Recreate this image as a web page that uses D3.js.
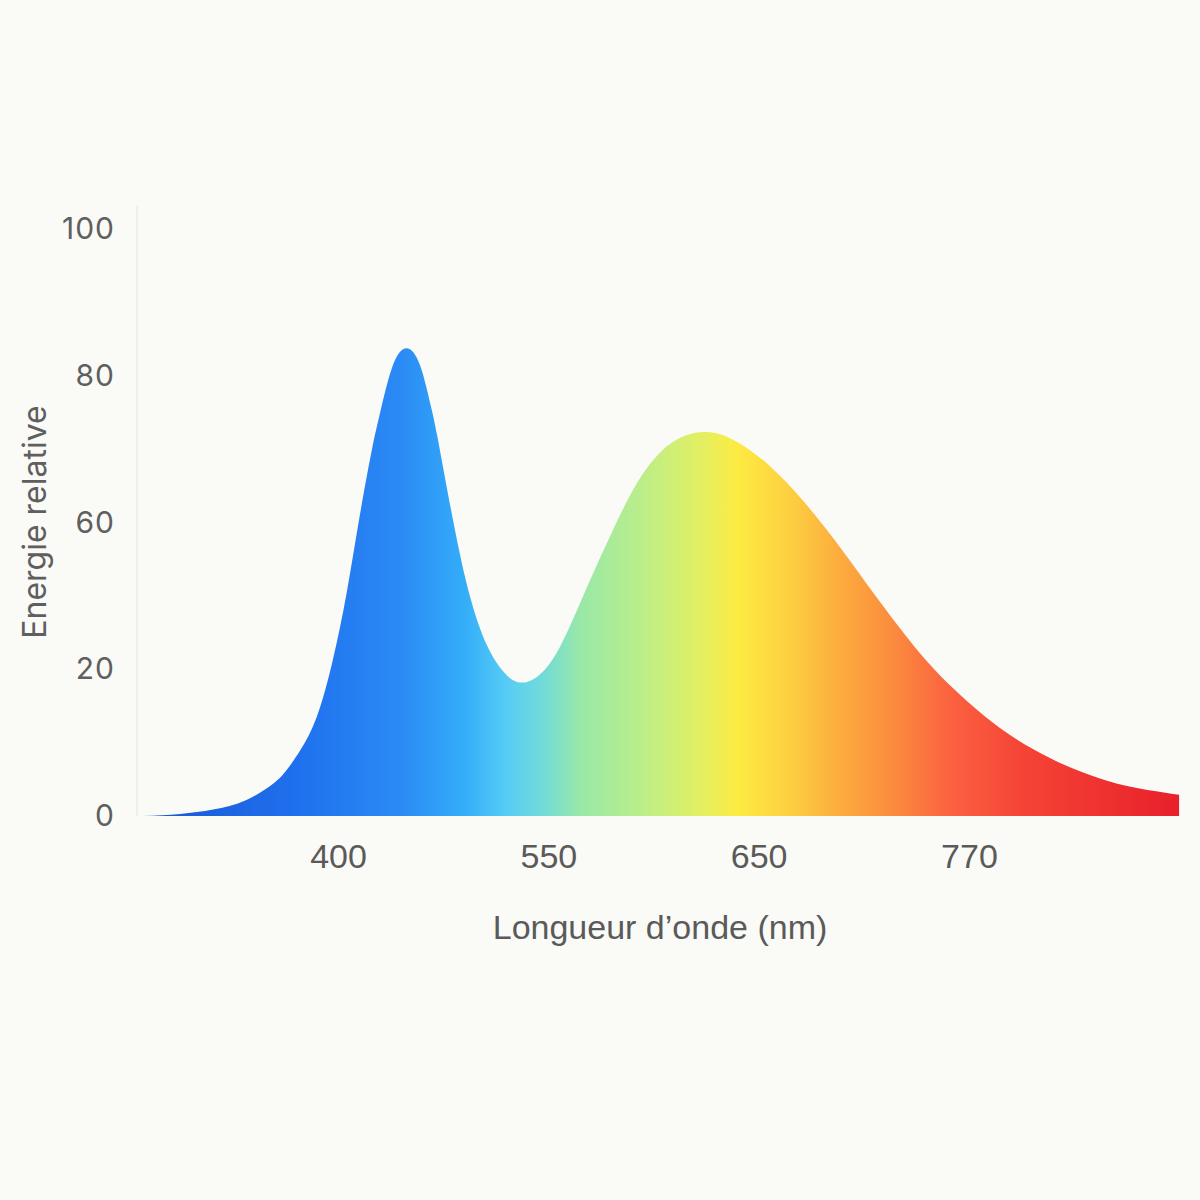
<!DOCTYPE html>
<html>
<head>
<meta charset="utf-8">
<script src="https://cdn.jsdelivr.net/npm/d3@7/dist/d3.min.js"></script>
<style>
  html, body { margin: 0; padding: 0; background: #fafaf6; }
  svg { display: block; }
</style>
</head>
<body>
<div id="chart"></div>
<script>
// ---- data (x in axis position units: tick positions 1..4 are the labelled wavelengths) ----
const spectrumX = [0.073, 0.249, 0.406, 0.562, 0.691, 0.753, 0.819, 0.900, 0.976, 1.042, 1.104, 1.161, 1.200, 1.261, 1.328, 1.390, 1.437, 1.471, 1.547, 1.627, 1.708, 1.784, 1.855, 1.946, 2.055, 2.184, 2.307, 2.421, 2.545, 2.659, 2.754, 2.878, 3.054, 3.211, 3.353, 3.515, 3.672, 3.829, 3.990, 4.147, 4.304, 4.466, 4.623, 4.780, 5.000];
const spectrumY = [0.0, 0.35, 1.1, 2.7, 5.5, 7.7, 11.1, 17.0, 26.7, 38.2, 51.3, 62.4, 68.7, 76.8, 79.7, 76.8, 70.5, 64.9, 50.4, 37.5, 29.1, 24.7, 22.8, 23.7, 28.8, 39.0, 48.7, 56.7, 62.4, 64.9, 65.4, 64.1, 59.6, 53.7, 47.4, 39.5, 32.0, 25.2, 19.6, 15.0, 11.4, 8.5, 6.4, 4.9, 3.6];
const xTickPos = [1, 2, 3, 4];
const xTickLabels = ["400", "550", "650", "770"];
const yTickPos = [0, 25, 50, 75, 100];
const yTickLabels = ["0", "20", "60", "80", "100"];
const xTitle = "Longueur d\u2019onde (nm)";
const yTitle = "Energie relative";
// gradient colour stops (fraction of x-domain, colour)
const gradOffsets = [0.02, 0.16, 0.26, 0.32, 0.36, 0.395, 0.43, 0.49, 0.545, 0.58, 0.63, 0.68, 0.73, 0.785, 0.85, 1.0];
const gradColors = ["#1a58d4", "#1f70ee", "#2b8bf5", "#34adf9", "#55ccf6", "#72dbd8", "#98e8a8", "#bcee88", "#e2f062", "#fdeb42", "#fdcf40", "#fcaa3e", "#fb8a3e", "#fb6040", "#f54436", "#e8202a"];

const W = 1200, H = 1200;
const svg = d3.select("#chart").append("svg").attr("width", W).attr("height", H);
svg.append("rect").attr("width", W).attr("height", H).attr("fill", "#fafaf6");

const x = d3.scaleLinear().domain([0, 5]).range([127.7, 1179.3]);
const y = d3.scaleLinear().domain([0, 100]).range([816, 229]);

const defs = svg.append("defs");
const grad = defs.append("linearGradient").attr("id", "spec")
  .attr("gradientUnits", "userSpaceOnUse")
  .attr("x1", x(0)).attr("x2", x(5)).attr("y1", 0).attr("y2", 0);
gradOffsets.forEach((o, i) => grad.append("stop").attr("offset", o).attr("stop-color", gradColors[i]));
defs.append("clipPath").attr("id", "plotClip").append("rect")
  .attr("x", x(0)).attr("y", 0).attr("width", x(5) - x(0)).attr("height", y(0));

// faint y axis line
const yAxis = d3.axisLeft(y).tickValues(yTickPos).tickFormat((d, i) => yTickLabels[i]).tickSize(0).tickPadding(22);
const gy = svg.append("g").attr("transform", "translate(137,0)").call(yAxis);
gy.select(".domain").attr("stroke", "#ececE6").attr("stroke-width", 1.5).attr("d", `M0,${y(104)}V${y(0)}`);
gy.selectAll("text").attr("font-family", "Inter, 'Open Sans', sans-serif").attr("font-size", 30)
  .attr("letter-spacing", 1).attr("fill", "#5f5f5f");

const data = spectrumX.map((d, i) => ({ x: d, y: spectrumY[i] }));
const area = d3.area().x(d => x(d.x)).y0(y(0)).y1(d => y(d.y)).curve(d3.curveNatural);
svg.append("path").datum(data).attr("d", area).attr("fill", "url(#spec)").attr("clip-path", "url(#plotClip)");

const xAxis = d3.axisBottom(x).tickValues(xTickPos).tickFormat((d, i) => xTickLabels[i]).tickSize(0).tickPadding(28);
const gx = svg.append("g").attr("transform", "translate(0,816)").call(xAxis);
gx.select(".domain").remove();
gx.selectAll("text").attr("font-family", "'Liberation Sans', Arial, sans-serif").attr("font-size", 34).attr("fill", "#5a5a5a");

svg.append("text").attr("x", 660).attr("y", 939).attr("text-anchor", "middle")
  .attr("font-family", "'Liberation Sans', Arial, sans-serif").attr("font-size", 34).attr("fill", "#5a5a5a")
  .text(xTitle);
svg.append("text").attr("transform", "translate(46,522) rotate(-90)").attr("text-anchor", "middle")
  .attr("font-family", "Inter, 'Open Sans', sans-serif").attr("font-size", 32).attr("fill", "#5f5f5f")
  .text(yTitle);
</script>
</body>
</html>
